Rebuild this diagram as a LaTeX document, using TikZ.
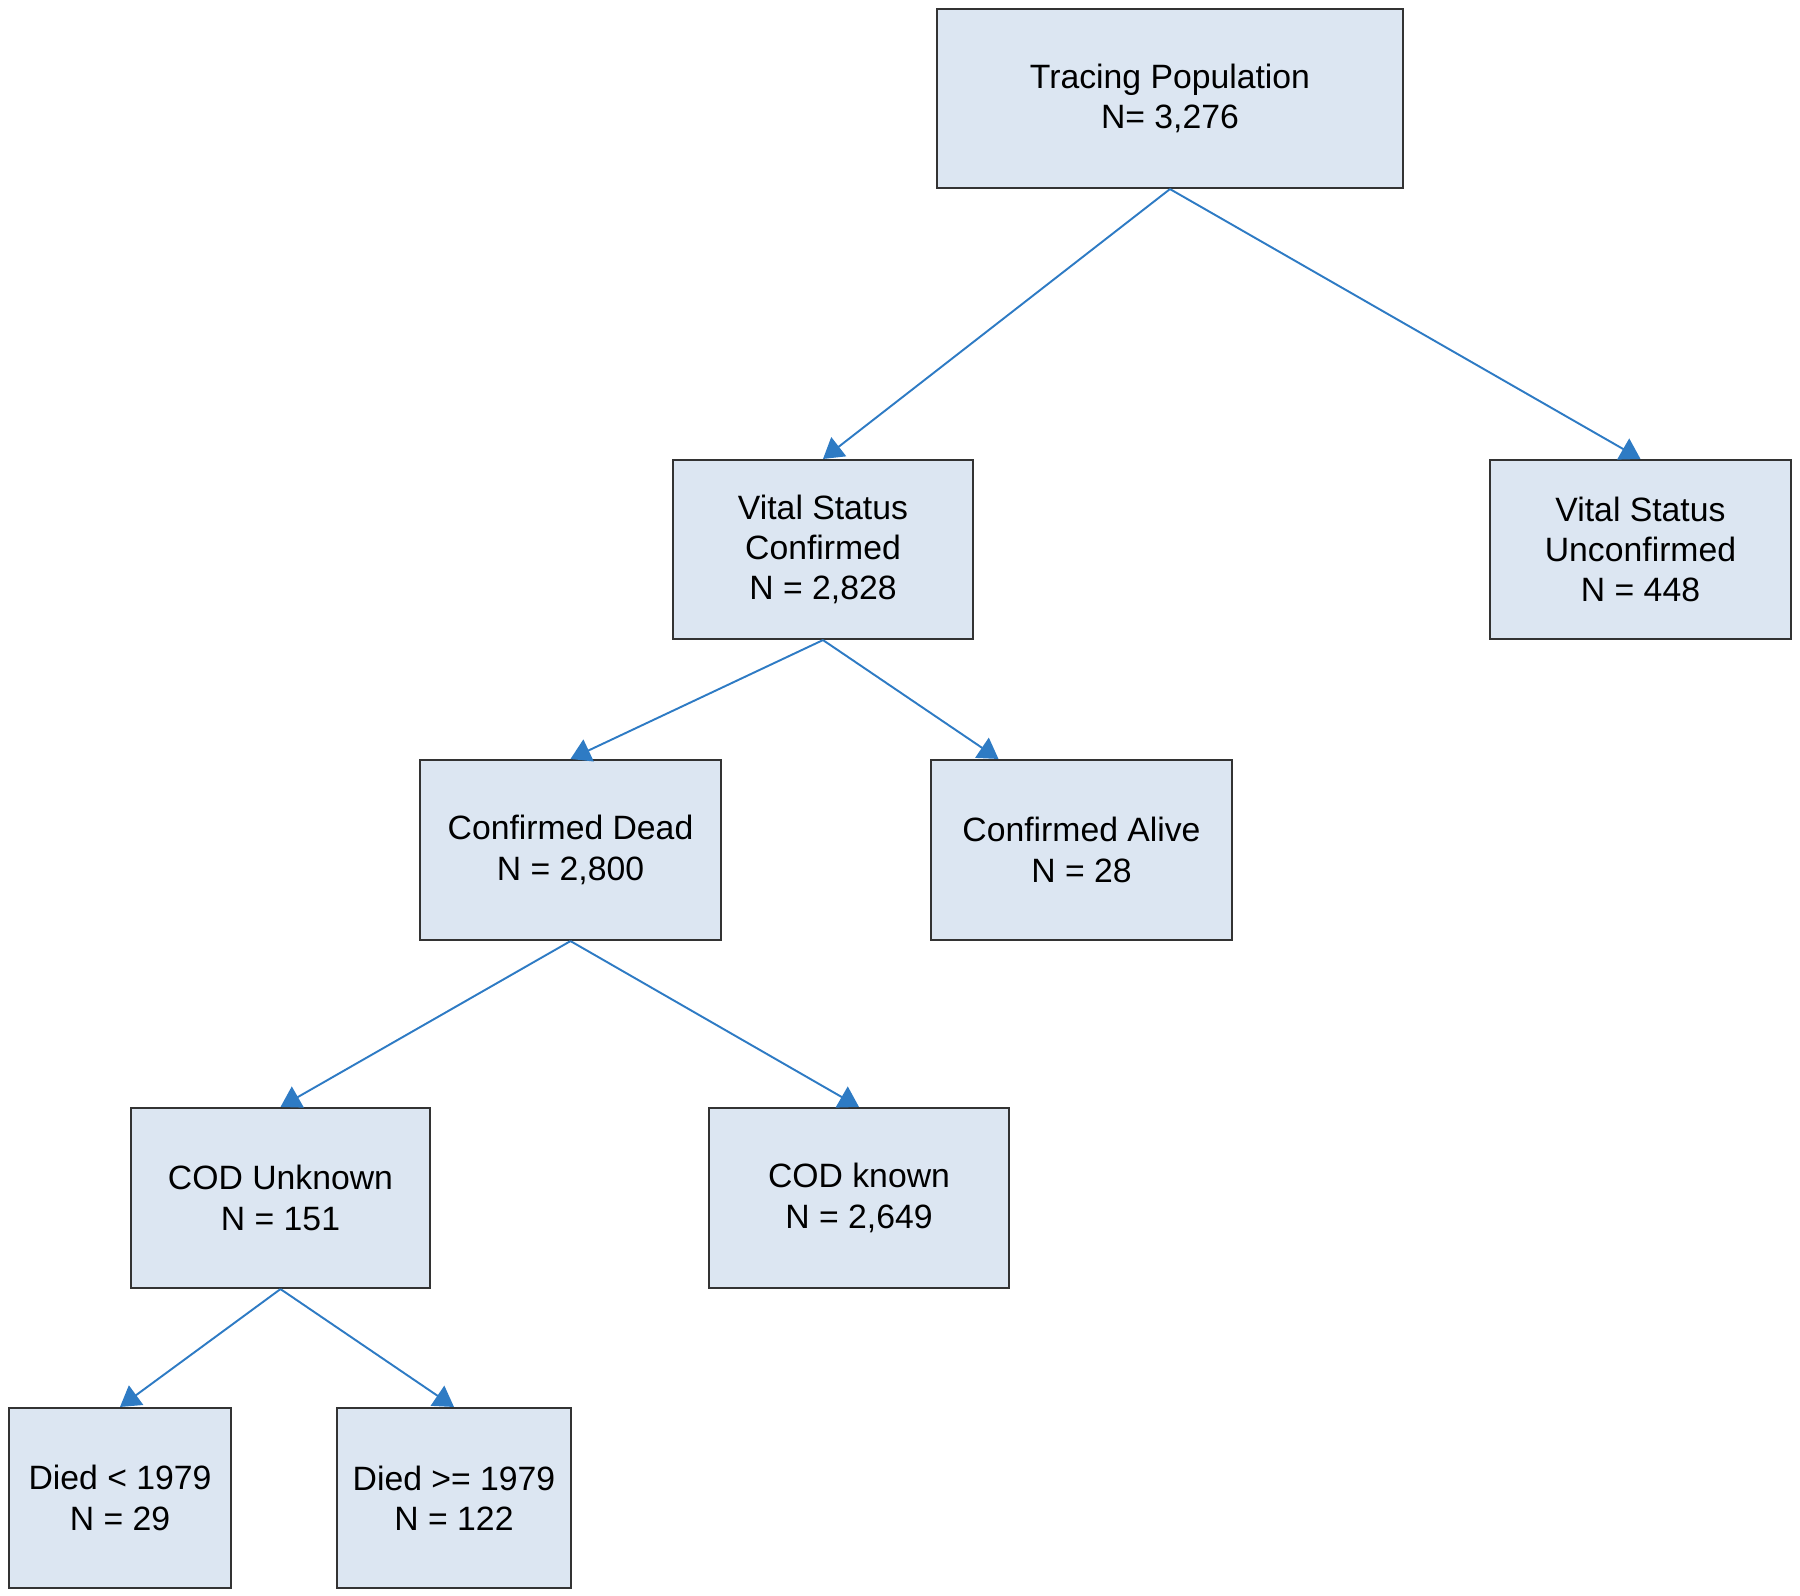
\documentclass[tikz,border=0pt]{standalone}
\usepackage{fontspec}
\setmainfont{Liberation Sans}
\usepackage{tikz}
\usetikzlibrary{arrows.meta}
\definecolor{BoxFill}{HTML}{DCE6F2}
\definecolor{ArrowBlue}{HTML}{2E7BC4}

\tikzset{
  stepbox/.style={draw=black!80,line width=0.6pt,fill=BoxFill,align=center,
    inner sep=0pt,font=\fontsize{9.6}{11.5}\selectfont},
  link/.style={ArrowBlue,line width=0.55pt,-{Triangle[length=2mm,width=2.4mm]}}
}

\begin{document}
\begin{tikzpicture}
                \useasboundingbox (0,0) rectangle (18,-15.95);

                \node[stepbox,minimum width=4.66cm,minimum height=1.79cm] (top) at (11.70,-0.985) {Tracing Population\\N= 3,276};
                \node[stepbox,minimum width=3.00cm,minimum height=1.79cm] (vsc) at (8.23,-5.495) {Vital Status\\Confirmed\\N = 2,828};
                \node[stepbox,minimum width=3.01cm,minimum height=1.79cm] (vsu) at (16.405,-5.495) {Vital Status\\Unconfirmed\\N = 448};
                \node[stepbox,minimum width=3.01cm,minimum height=1.80cm] (dead) at (5.705,-8.50) {Confirmed Dead\\N = 2,800};
                \node[stepbox,minimum width=3.01cm,minimum height=1.80cm] (alive) at (10.815,-8.50) {Confirmed Alive\\N = 28};
                \node[stepbox,minimum width=2.99cm,minimum height=1.80cm] (codu) at (2.805,-11.98) {COD Unknown\\N = 151};
                \node[stepbox,minimum width=3.00cm,minimum height=1.80cm] (codk) at (8.59,-11.98) {COD known\\N = 2,649};
                \node[stepbox,minimum width=2.22cm,minimum height=1.80cm] (early) at (1.20,-14.98) {Died < 1979\\N = 29};
                \node[stepbox,minimum width=2.34cm,minimum height=1.80cm] (late) at (4.54,-14.98) {Died >= 1979\\N = 122};

                \draw[link] (top.south) -- (vsc.north);
                \draw[link] (top.south) -- (vsu.north);
                \draw[link] (vsc.south) -- (dead.north);
                \draw[link] (vsc.south) -- ([xshift=-0.83cm]alive.north);
                \draw[link] (dead.south) -- (codu.north);
                \draw[link] (dead.south) -- (codk.north);
                \draw[link] (codu.south) -- (early.north);
                \draw[link] (codu.south) -- (late.north);
            \end{tikzpicture}
\end{document}
